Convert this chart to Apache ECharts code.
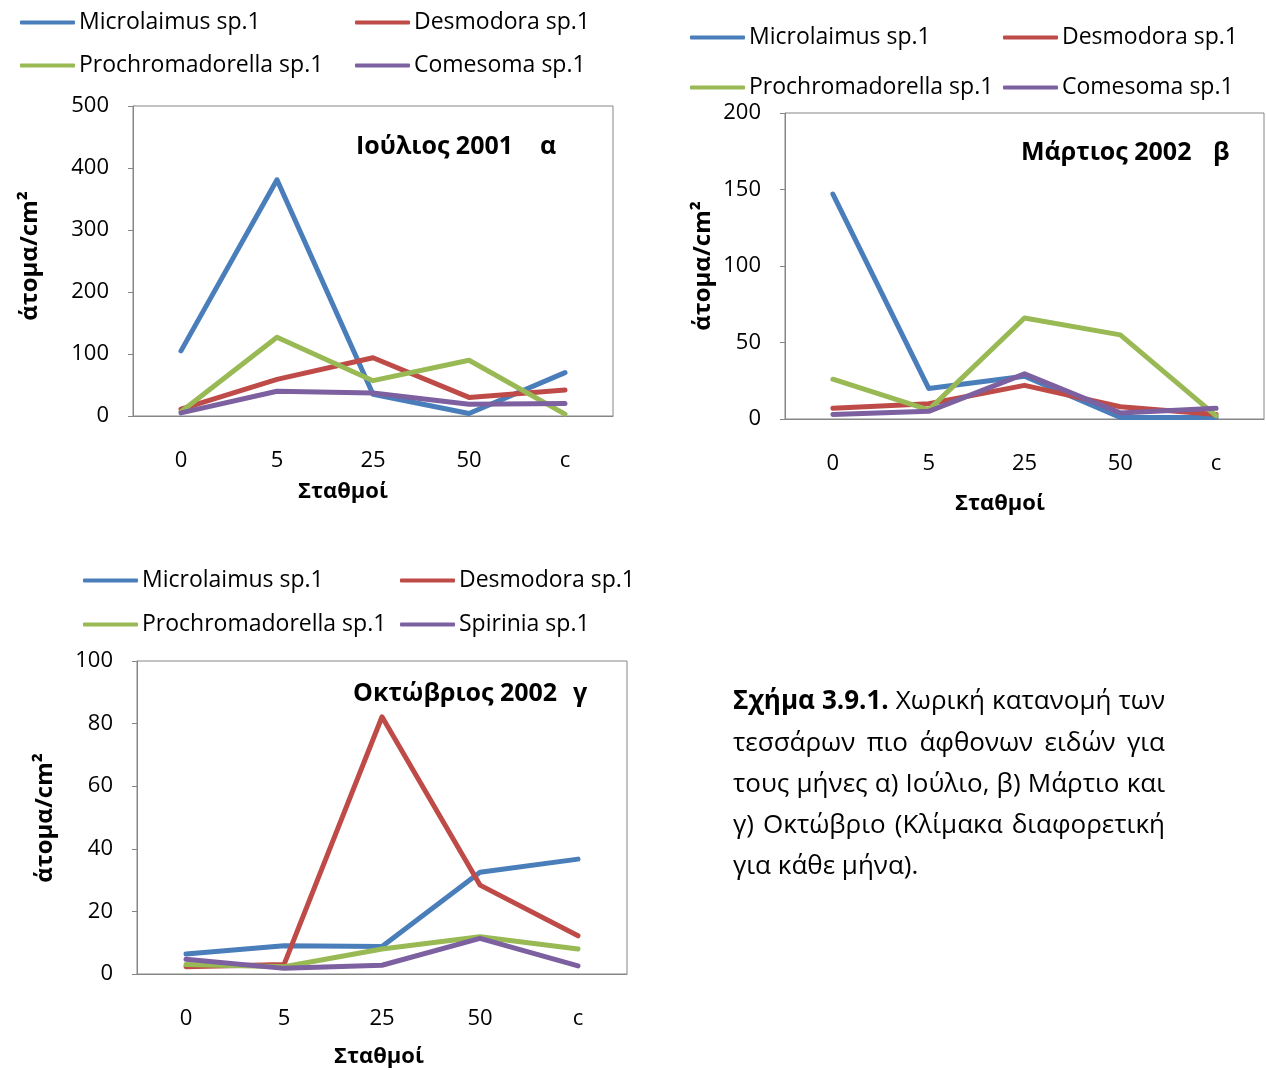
<!DOCTYPE html>
<html>
<head>
<meta charset="utf-8">
<script src="https://cdn.jsdelivr.net/npm/echarts@6/dist/echarts.min.js"></script>
<style>
  html, body { margin: 0; padding: 0; background: #fff; }
  #chart { width: 1266px; height: 1070px; }
</style>
</head>
<body>
<div id="chart"></div>
<script>
// Stations along the transect
const stations = ['0', '5', '25', '50', 'c'];

// July 2001 (α), individuals per cm²
const julyMicrolaimus = [105, 381, 35, 4, 70];
const julyDesmodora = [11, 59, 94, 30, 42];
const julyProchromadorella = [7, 127, 57, 90, 3];
const julyComesoma = [5, 40, 37, 19, 20];

// March 2002 (β)
const marchMicrolaimus = [147, 20, 28, 1, 1];
const marchDesmodora = [7, 10, 22, 8, 3];
const marchProchromadorella = [26, 6, 66, 55, 2];
const marchComesoma = [3, 5, 29.5, 4, 7];

// October 2002 (γ)
const octMicrolaimus = [6.4, 9, 8.8, 32.5, 36.7];
const octDesmodora = [2.3, 3, 82.2, 28.4, 12.2];
const octProchromadorella = [3, 2.3, 8, 11.9, 8];
const octSpirinia = [4.7, 1.8, 2.8, 11.4, 2.6];

// Y axis scales per month
const julyAxis = { max: 500, interval: 100 };
const marchAxis = { max: 200, interval: 50 };
const octAxis = { max: 100, interval: 20 };

const yTitle = 'άτομα/cm²';
const xTitle = 'Σταθμοί';
const titles = [
  { main: 'Ιούλιος 2001', tag: 'α' },
  { main: 'Μάρτιος 2002', tag: 'β' },
  { main: 'Οκτώβριος 2002', tag: 'γ' }
];

const captionLines = [
  [['Σχήμα', true], ['3.9.1.', true], ['Χωρική', false], ['κατανομή', false], ['των', false]],
  [['τεσσάρων', false], ['πιο', false], ['άφθονων', false], ['ειδών', false], ['για', false]],
  [['τους', false], ['μήνες', false], ['α)', false], ['Ιούλιο,', false], ['β)', false], ['Μάρτιο', false], ['και', false]],
  [['γ)', false], ['Οκτώβριο', false], ['(Κλίμακα', false], ['διαφορετική', false]],
  [['για', false], ['κάθε', false], ['μήνα).', false]]
];

const COLORS = {
  'Microlaimus sp.1': '#4A7EBB',
  'Desmodora sp.1': '#BE4B48',
  'Prochromadorella sp.1': '#98B954',
  'Comesoma sp.1': '#7D60A0',
  'Spirinia sp.1': '#7D60A0'
};

const FONT = '"Open Sans", "Noto Sans", sans-serif';
const TICK_FS = 22;
const LEGEND_FS = 23;
const CAPTION_FS = 26;

const panels = [
  {
    grid: { left: 133, top: 106, width: 480, height: 310 },
    axis: julyAxis,
    series: [['Microlaimus sp.1', julyMicrolaimus], ['Desmodora sp.1', julyDesmodora],
             ['Prochromadorella sp.1', julyProchromadorella], ['Comesoma sp.1', julyComesoma]],
    legendLeft: [20, 355], legendTop: 11, legendGap: 20,
    yTitlePos: [30, 256], xTitlePos: [343, 492], titlePos: [356, 540, 147]
  },
  {
    grid: { left: 785, top: 113, width: 479, height: 306 },
    axis: marchAxis,
    series: [['Microlaimus sp.1', marchMicrolaimus], ['Desmodora sp.1', marchDesmodora],
             ['Prochromadorella sp.1', marchProchromadorella], ['Comesoma sp.1', marchComesoma]],
    legendLeft: [690, 1003], legendTop: 26, legendGap: 27,
    yTitlePos: [703, 266], xTitlePos: [1000, 504], titlePos: [1021, 1213, 153]
  },
  {
    grid: { left: 137, top: 661, width: 490, height: 313 },
    axis: octAxis,
    series: [['Microlaimus sp.1', octMicrolaimus], ['Desmodora sp.1', octDesmodora],
             ['Prochromadorella sp.1', octProchromadorella], ['Spirinia sp.1', octSpirinia]],
    legendLeft: [83, 400], legendTop: 569, legendGap: 21,
    yTitlePos: [45, 818], xTitlePos: [379, 1057], titlePos: [353, 573, 694]
  }
];

const grids = [], xAxes = [], yAxes = [], series = [], legends = [], graphics = [];

panels.forEach((p, i) => {
  grids.push(Object.assign({ show: true, borderColor: '#868686', borderWidth: 1, backgroundColor: 'transparent' }, p.grid));
  xAxes.push({
    gridIndex: i, type: 'category', data: stations, boundaryGap: true,
    axisLine: { show: true, lineStyle: { color: '#868686', width: 1 } },
    axisTick: { show: false },
    axisLabel: { color: '#000', fontFamily: FONT, fontSize: TICK_FS, margin: 34 },
    splitLine: { show: false }
  });
  yAxes.push({
    gridIndex: i, type: 'value', min: 0, max: p.axis.max, interval: p.axis.interval,
    axisLine: { show: true, lineStyle: { color: '#868686', width: 1 } },
    axisTick: { show: true, inside: false, length: 5, lineStyle: { color: '#868686' } },
    axisLabel: { color: '#000', fontFamily: FONT, fontSize: TICK_FS, margin: 24 },
    splitLine: { show: false }
  });
  p.series.forEach(([name, values]) => {
    series.push({
      type: 'line', name, xAxisIndex: i, yAxisIndex: i, data: values,
      showSymbol: false, symbol: 'none', animation: false,
      lineStyle: { color: COLORS[name], width: 5, cap: 'round', join: 'round' },
      itemStyle: { color: COLORS[name] }
    });
  });
  // Two legend columns per panel
  [[p.series[0][0], p.series[2][0]], [p.series[1][0], p.series[3][0]]].forEach((names, c) => {
    legends.push({
      data: names, orient: 'vertical', left: p.legendLeft[c], top: p.legendTop,
      padding: 0, itemGap: p.legendGap, itemWidth: 55, itemHeight: 4, icon: 'roundRect',
      selectedMode: false,
      textStyle: { color: '#000', fontFamily: FONT, fontSize: LEGEND_FS, lineHeight: 22, padding: [0, 0, 0, -1] }
    });
  });
  // Axis titles
  graphics.push({
    type: 'text', x: p.yTitlePos[0], y: p.yTitlePos[1], rotation: Math.PI / 2,
    style: { text: yTitle, font: 'bold 24px ' + FONT, fill: '#000', align: 'center', verticalAlign: 'middle' }
  });
  graphics.push({
    type: 'text', x: p.xTitlePos[0], y: p.xTitlePos[1],
    style: { text: xTitle, font: 'bold 22px ' + FONT, fill: '#000', align: 'center', verticalAlign: 'middle' }
  });
  // Panel title
  graphics.push({
    type: 'text', x: p.titlePos[0], y: p.titlePos[2],
    style: { text: titles[i].main, font: 'bold 25px ' + FONT, fill: '#000', align: 'left', verticalAlign: 'middle' }
  });
  graphics.push({
    type: 'text', x: p.titlePos[1], y: p.titlePos[2],
    style: { text: titles[i].tag, font: 'bold 25px ' + FONT, fill: '#000', align: 'left', verticalAlign: 'middle' }
  });
});

// Justified caption block
const measureCtx = document.createElement('canvas').getContext('2d');
const capLeft = 733, capRight = 1165, capTop = 702, capLineGap = 41.2;
captionLines.forEach((words, li) => {
  const fonts = words.map(([, bold]) => (bold ? 'bold ' : '') + CAPTION_FS + 'px ' + FONT);
  const widths = words.map(([t], k) => { measureCtx.font = fonts[k]; return measureCtx.measureText(t).width; });
  const total = widths.reduce((a, b) => a + b, 0);
  const last = li === captionLines.length - 1;
  measureCtx.font = CAPTION_FS + 'px ' + FONT;
  const gap = last ? measureCtx.measureText(' ').width : (capRight - capLeft - total) / (words.length - 1);
  let x = capLeft;
  words.forEach(([t], k) => {
    graphics.push({
      type: 'text', x, y: capTop + li * capLineGap,
      style: { text: t, font: fonts[k], fill: '#000', align: 'left', verticalAlign: 'middle' }
    });
    x += widths[k] + gap;
  });
});

const chart = echarts.init(document.getElementById('chart'), null, { renderer: 'canvas' });
chart.setOption({
  backgroundColor: '#fff',
  animation: false,
  grid: grids,
  xAxis: xAxes,
  yAxis: yAxes,
  legend: legends,
  series: series,
  graphic: graphics
});
</script>
</body>
</html>
